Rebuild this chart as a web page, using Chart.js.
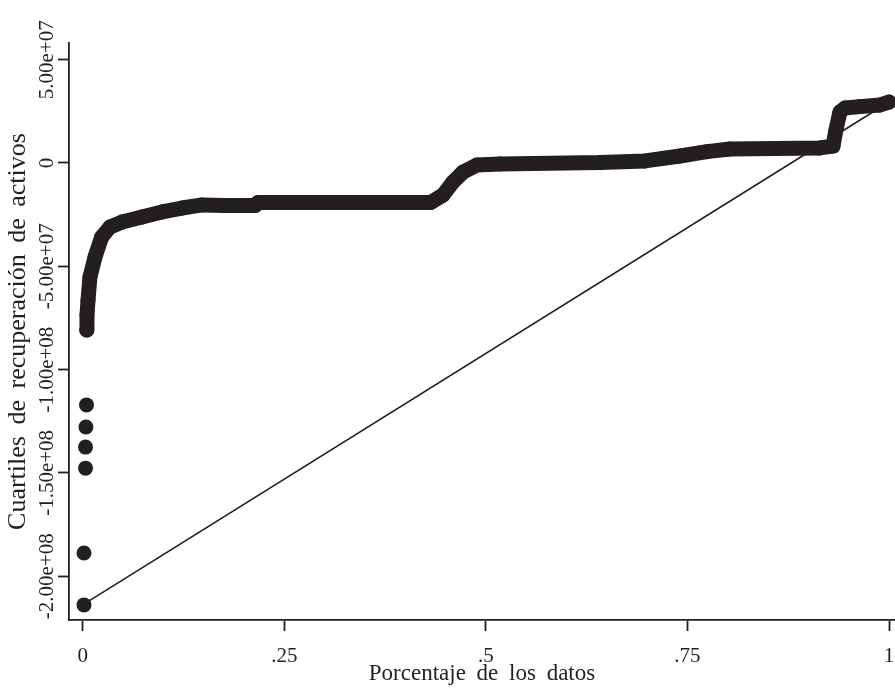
<!DOCTYPE html>
<html>
<head>
<meta charset="utf-8">
<script src="https://cdn.jsdelivr.net/npm/chart.js@4/dist/chart.umd.min.js"></script>
<style>
  html, body { margin: 0; padding: 0; background: #ffffff; overflow: hidden; }
  #wrap { width: 895px; height: 691px; }
  canvas { display: block; }
</style>
</head>
<body>
<div id="wrap"><canvas id="c" width="895" height="691"></canvas></div>
<script>
// ---- data ----
const xTicks = [0, 0.25, 0.5, 0.75, 1];
const xTickLabels = ['0', '.25', '.5', '.75', '1'];
const yTicks = [-2.0e8, -1.5e8, -1.0e8, -5.0e7, 0, 5.0e7];
const yTickLabels = ['-2.00e+08', '-1.50e+08', '-1.00e+08', '-5.00e+07', '0', '5.00e+07'];

// isolated lower-tail quantiles
const tailPct = [0.0016, 0.0016, 0.0035, 0.0035, 0.0040, 0.0047];
const tailValues = [-213.9e6, -188.8e6, -147.7e6, -137.5e6, -127.8e6, -117.1e6];

// continuous body of the quantile curve
const bodyPct = [0.0050, 0.0053, 0.0066, 0.0090, 0.0153, 0.0236, 0.0339, 0.0487, 0.0735, 0.0983,
                 0.1232, 0.1480, 0.1762, 0.2139, 0.2176, 0.4318, 0.4469, 0.4593, 0.4717, 0.4890,
                 0.5174, 0.6416, 0.6975, 0.7409, 0.7742, 0.8028, 0.9143, 0.9305, 0.9342, 0.9392,
                 0.9454, 0.9640, 0.9888, 1.0000];
const bodyValues = [-80.8e6, -73.6e6, -66.3e6, -55.2e6, -45.5e6, -35.8e6, -31.0e6, -28.6e6, -26.1e6, -23.7e6,
                    -21.8e6, -20.3e6, -20.6e6, -20.6e6, -19.1e6, -19.1e6, -15.5e6, -9.2e6, -4.4e6, -1.0e6,
                    -0.5e6, 0.2e6, 1.0e6, 3.4e6, 5.5e6, 6.8e6, 7.3e6, 8.2e6, 16.0e6, 24.7e6,
                    26.6e6, 27.3e6, 28.1e6, 29.5e6];

// reference (uniform) line from minimum to maximum
const refPct = [0, 1];
const refValues = [-213.9e6, 29.5e6];

// ---- chart ----
const INK = '#231f20';
const FONT = '"Liberation Serif", "Times New Roman", serif';
const toPts = (xs, ys) => xs.map((x, i) => ({ x: x, y: ys[i] }));

const tickLabelPlugin = {
  id: 'tickLabels',
  beforeDraw(chart) {
    chart.ctx.wordSpacing = '5px';
  },
  afterDraw(chart) {
    const ctx = chart.ctx;
    const ys = chart.scales.y;
    const xs = chart.scales.x;
    ctx.save();
    ctx.wordSpacing = '0px';
    ctx.fillStyle = INK;
    ctx.font = '21px ' + FONT;
    ctx.textAlign = 'center';
    ctx.textBaseline = 'alphabetic';
    yTicks.forEach((v, i) => {
      const py = ys.getPixelForValue(v);
      ctx.save();
      ctx.translate(53, py);
      ctx.rotate(-Math.PI / 2);
      ctx.fillText(yTickLabels[i], 0, 0);
      ctx.restore();
    });
    xTicks.forEach((v, i) => {
      ctx.fillText(xTickLabels[i], xs.getPixelForValue(v), 662);
    });
    ctx.restore();
  }
};

const axisCommon = {
  grid: { drawOnChartArea: false, drawTicks: true, tickLength: 11, tickWidth: 1.8, tickColor: INK, color: INK },
  border: { display: true, color: INK, width: 1.8 }
};

new Chart(document.getElementById('c'), {
  type: 'scatter',
  data: {
    datasets: [
      {
        label: 'Referencia',
        data: toPts(refPct, refValues),
        showLine: true,
        borderColor: INK,
        borderWidth: 1.6,
        pointRadius: 0,
        fill: false,
        order: 3
      },
      {
        label: 'Cuartiles',
        data: toPts(bodyPct, bodyValues),
        showLine: true,
        borderColor: INK,
        backgroundColor: INK,
        borderWidth: 15,
        borderCapStyle: 'round',
        borderJoinStyle: 'round',
        pointRadius: 7.5,
        pointBorderWidth: 0,
        pointBackgroundColor: INK,
        tension: 0,
        fill: false,
        order: 2
      },
      {
        label: 'Cola',
        data: toPts(tailPct, tailValues),
        showLine: false,
        pointRadius: 7.5,
        pointBorderWidth: 0,
        pointBackgroundColor: INK,
        backgroundColor: INK,
        order: 1
      }
    ]
  },
  options: {
    responsive: false,
    animation: false,
    devicePixelRatio: 1,
    clip: false,
    layout: { autoPadding: false, padding: { top: 43, right: 0, left: 0, bottom: 0 } },
    plugins: { legend: { display: false }, tooltip: { enabled: false } },
    scales: {
      x: Object.assign({
        type: 'linear',
        min: -0.01699,
        max: 1.00744,
        afterBuildTicks: (s) => { s.ticks = xTicks.map(v => ({ value: v })); },
        afterFit: (s) => { s.height = 71; s.paddingLeft = 0; s.paddingRight = 0; },
        ticks: { display: false },
        title: {
          display: true,
          text: 'Porcentaje de los datos',
          color: INK,
          font: { family: FONT, size: 23 },
          padding: { top: 0, bottom: 3 }
        }
      }, axisCommon),
      y: Object.assign({
        type: 'linear',
        min: -2.2120e8,
        max: 5.808e7,
        afterBuildTicks: (s) => { s.ticks = yTicks.map(v => ({ value: v })); },
        afterFit: (s) => { s.width = 69; s.paddingTop = 0; s.paddingBottom = 0; },
        ticks: { display: false },
        title: {
          display: true,
          text: 'Cuartiles de recuperación de activos',
          color: INK,
          font: { family: FONT, size: 26 },
          padding: { top: 3, bottom: 0 }
        }
      }, axisCommon)
    }
  },
  plugins: [tickLabelPlugin]
});
</script>
</body>
</html>
